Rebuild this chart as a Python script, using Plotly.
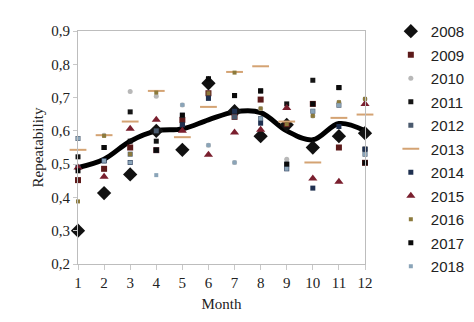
import plotly.graph_objects as go

months = [1, 2, 3, 4, 5, 6, 7, 8, 9, 10, 11, 12]
years = ["2008", "2009", "2010", "2011", "2012", "2013", "2014", "2015", "2016", "2017", "2018"]

v2008 = [0.30, 0.413, 0.469, 0.60, 0.543, 0.743, 0.659, 0.584, 0.618, 0.55, 0.584, 0.593]
v2009 = [0.452, 0.486, 0.55, 0.542, 0.633, 0.713, 0.642, 0.694, 0.62, 0.681, 0.55, 0.504]
v2010 = [0.49, 0.587, 0.718, 0.704, 0.678, 0.557, 0.505, 0.667, 0.515, 0.645, 0.686, 0.696]
v2011 = [0.522, 0.55, 0.657, 0.569, 0.618, 0.756, 0.706, 0.72, 0.681, 0.752, 0.73, 0.545]
v2012 = [0.577, 0.51, 0.53, 0.60, 0.647, 0.698, 0.642, 0.637, 0.50, 0.659, 0.677, 0.53]
v2013 = [0.543, 0.587, 0.628, 0.72, 0.581, 0.672, 0.777, 0.794, 0.628, 0.505, 0.639, 0.649]
v2014 = [0.49, 0.51, 0.505, 0.542, 0.618, 0.698, 0.659, 0.623, 0.486, 0.428, 0.613, 0.545]
v2015 = [0.49, 0.462, 0.606, 0.633, 0.60, 0.528, 0.595, 0.603, 0.669, 0.457, 0.447, 0.681]
v2016 = [0.388, 0.585, 0.53, 0.715, 0.647, 0.713, 0.775, 0.667, 0.62, 0.645, 0.686, 0.696]
v2017 = [0.48, 0.55, 0.569, 0.542, 0.647, 0.756, 0.706, 0.72, 0.50, 0.681, 0.73, 0.504]
v2018 = [0.577, 0.51, 0.505, 0.467, 0.678, 0.557, 0.505, 0.637, 0.486, 0.659, 0.677, 0.53]
mean_curve = [0.49, 0.515, 0.569, 0.60, 0.606, 0.633, 0.657, 0.655, 0.60, 0.573, 0.622, 0.60]

y_tickvals = [0.2, 0.3, 0.4, 0.5, 0.6, 0.7, 0.8, 0.9]
y_ticktext = ["0,2", "0,3", "0,4", "0,5", "0,6", "0,7", "0,8", "0,9"]

series = [v2008, v2009, v2010, v2011, v2012, v2013, v2014, v2015, v2016, v2017, v2018]
styles = [
    dict(symbol="diamond", size=11, color="#111111"),
    dict(symbol="square", size=6, color="#5c1a1a"),
    dict(symbol="circle", size=5, color="#b8b8b8"),
    dict(symbol="square", size=5, color="#151515"),
    dict(symbol="square", size=5, color="#4a5a6e"),
    dict(symbol="line-ew", size=12, color="#d4a373"),
    dict(symbol="square", size=5, color="#1f3050"),
    dict(symbol="triangle-up", size=8, color="#7a1f2e"),
    dict(symbol="square", size=4, color="#8c7a3c"),
    dict(symbol="square", size=5, color="#0a0a0a"),
    dict(symbol="square", size=4, color="#8aa4b8"),
]

fig = go.Figure()

fig.add_trace(go.Scatter(
    x=months, y=mean_curve, mode="lines", line=dict(color="#000000", width=5, shape="spline", smoothing=1.0),
    showlegend=False, cliponaxis=False,
))

for name, vals, st in zip(years, series, styles):
    if st["symbol"] == "line-ew":
        marker = dict(symbol="line-ew", size=st["size"], line=dict(color=st["color"], width=2), color=st["color"])
    else:
        marker = dict(symbol=st["symbol"], size=st["size"], color=st["color"], line=dict(width=0))
    fig.add_trace(go.Scatter(
        x=months, y=vals, mode="markers", name=name, marker=marker,
        cliponaxis=False, legendgroup=name,
    ))

fig.update_layout(
    width=474, height=322,
    margin=dict(l=70, r=103, t=17, b=66),
    paper_bgcolor="white", plot_bgcolor="white",
    font=dict(family="Liberation Serif", color="#222222", size=15),
    legend=dict(
        x=1.09, y=0.494, xanchor="left", yanchor="middle",
        font=dict(family="Liberation Sans", size=15, color="#222222"),
        itemwidth=30, tracegroupgap=1, maxheight=320,
        bgcolor="rgba(0,0,0,0)",
    ),
    xaxis=dict(
        range=[1, 12], tickvals=months, ticks="outside", ticklen=5, tickcolor="#c8c8c8",
        showgrid=False, zeroline=False, showline=True, linecolor="#bdbdbd", linewidth=1, mirror=True,
        tickfont=dict(family="Liberation Serif", size=15),
        title=dict(text="Month", font=dict(family="Liberation Serif", size=15), standoff=8),
    ),
    yaxis=dict(
        range=[0.2, 0.9], tickvals=y_tickvals, ticktext=y_ticktext, ticks="outside", ticklen=4, tickcolor="#c8c8c8",
        showgrid=False, zeroline=False, showline=True, linecolor="#bdbdbd", linewidth=1, mirror=True,
        tickfont=dict(family="Liberation Serif", size=15),
        title=dict(text="Repeatability", font=dict(family="Liberation Serif", size=15), standoff=4),
    ),
)

fig.write_html("out.html")
